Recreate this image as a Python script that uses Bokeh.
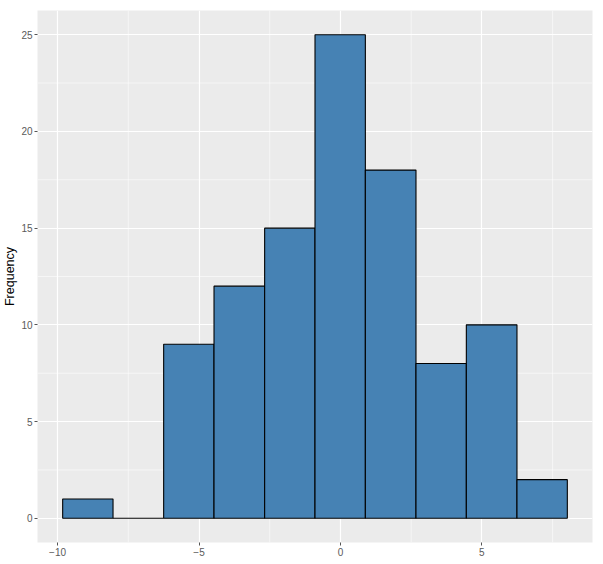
from bokeh.plotting import figure
from bokeh.embed import file_html
from bokeh.resources import INLINE
from bokeh.models import Range1d, FixedTicker, ColumnDataSource

# Histogram data
bin_edges = [-9.82, -8.04, -6.25, -4.47, -2.68, -0.90, 0.88, 2.67, 4.45, 6.24, 8.02]
counts = [1, 0, 9, 12, 15, 25, 18, 8, 10, 2]
x_ticks = [-10, -5, 0, 5]
y_ticks = [0, 5, 10, 15, 20, 25]
x_minor = [-7.5, -2.5, 2.5, 7.5]
y_minor = [2.5, 7.5, 12.5, 17.5, 22.5]

src = ColumnDataSource(dict(left=bin_edges[:-1], right=bin_edges[1:],
                            top=counts, bottom=[0] * len(counts)))

p = figure(width=600, height=560, output_backend="svg", toolbar_location=None,
           x_range=Range1d(-10.71, 8.91), y_range=Range1d(-1.25, 26.25),
           min_border_left=37, min_border_right=8, min_border_top=10, min_border_bottom=18)

p.background_fill_color = "#EBEBEB"
p.border_fill_color = "white"
p.outline_line_color = None

# minor grid lines
for xm in x_minor:
    p.line([xm, xm], [-1.25, 26.25], line_color="white", line_width=0.6, alpha=0.9)
for ym in y_minor:
    p.line([-10.71, 8.91], [ym, ym], line_color="white", line_width=0.6, alpha=0.9)

p.xgrid.ticker = FixedTicker(ticks=x_ticks)
p.ygrid.ticker = FixedTicker(ticks=y_ticks)
p.grid.grid_line_color = "white"
p.grid.grid_line_width = 1.2

p.quad(left="left", right="right", top="top", bottom="bottom", source=src,
       fill_color="#4682B4", line_color="black", line_width=1.1)

p.xaxis.ticker = FixedTicker(ticks=x_ticks)
p.yaxis.ticker = FixedTicker(ticks=y_ticks)
for ax in (p.xaxis, p.yaxis):
    ax.axis_line_color = None
    ax.major_tick_line_color = "#555555"
    ax.major_tick_in = 0
    ax.major_tick_out = 3
    ax.minor_tick_line_color = None
    ax.major_label_text_color = "#5A5A5A"
    ax.major_label_text_font = "Liberation Sans"
    ax.major_label_text_font_size = "10px"
    ax.major_label_standoff = 2

p.yaxis.axis_label = "Frequency"
p.yaxis.axis_label_text_font = "Liberation Sans"
p.yaxis.axis_label_text_font_size = "12.5px"
p.yaxis.axis_label_text_font_style = "normal"
p.yaxis.axis_label_text_color = "black"
p.yaxis.axis_label_standoff = 1

open("out.html", "w").write(file_html(p, INLINE))
